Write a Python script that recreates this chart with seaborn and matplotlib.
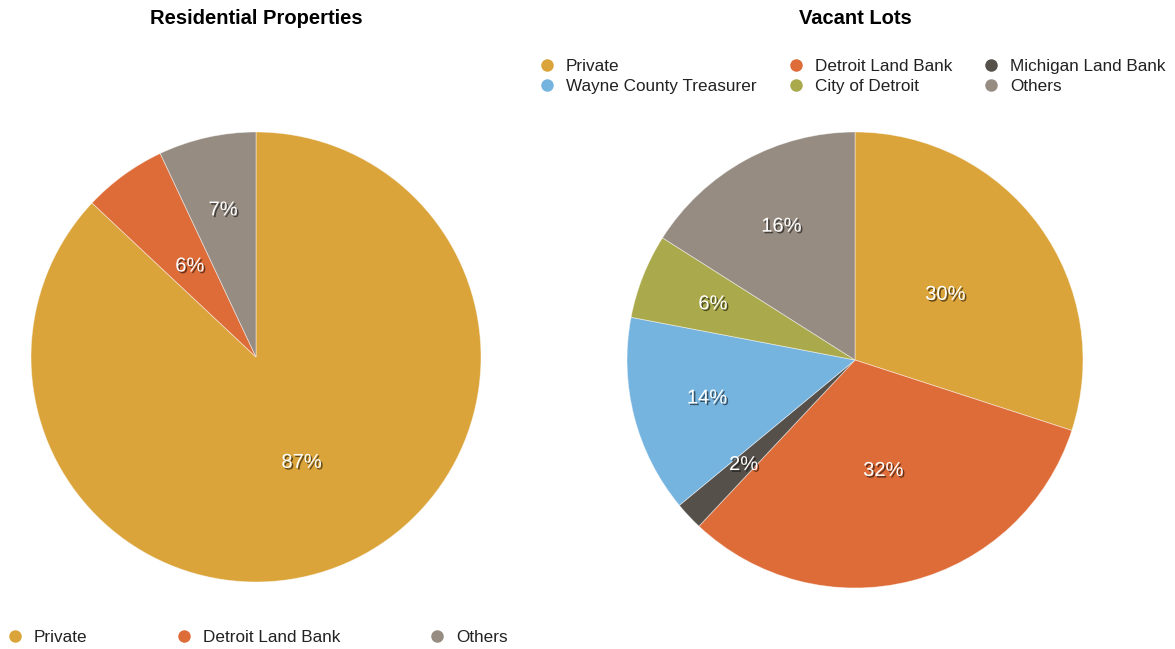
import numpy as np
import matplotlib
matplotlib.use("Agg")
import matplotlib.pyplot as plt
import matplotlib.patheffects as pe
from matplotlib.lines import Line2D
import seaborn as sns

sns.set_theme(style="white")
plt.rcParams["font.family"] = ["Liberation Sans", "DejaVu Sans"]

# Ownership shares (percent)
res_labels = ["Private", "Detroit Land Bank", "Others"]
res_values = [87, 6, 7]

lot_labels = ["Private", "Detroit Land Bank", "Michigan Land Bank",
              "Wayne County Treasurer", "City of Detroit", "Others"]
lot_values = [30, 32, 2, 14, 6, 16]

colors = {
    "Private": "#DBA43A",
    "Detroit Land Bank": "#DE6C38",
    "Michigan Land Bank": "#555049",
    "Wayne County Treasurer": "#76B4E0",
    "City of Detroit": "#AAAA4C",
    "Others": "#968C82",
}

# radial position of each percentage label (fraction of radius)
res_label_r = [0.51, 0.50, 0.67]
lot_label_r = [0.49, 0.50, 0.67, 0.67, 0.67, 0.67]

W, H = 1175, 649
fig = plt.figure(figsize=(W / 100, H / 100), dpi=100)
fig.patch.set_facecolor("white")

shadow = [pe.SimplePatchShadow(offset=(1.2, -1.2), shadow_rgbFace="black", alpha=0.55),
          pe.Normal()]


def draw_pie(rect, labels, values, label_r):
    ax = fig.add_axes(rect)
    wedges, _ = ax.pie(values, colors=[colors[l] for l in labels],
                       startangle=90, counterclock=False, radius=1.0,
                       wedgeprops=dict(edgecolor=(1, 1, 1, 0.5), linewidth=0.6))
    for w, v, r in zip(wedges, values, label_r):
        mid = np.deg2rad((w.theta1 + w.theta2) / 2)
        ax.text(r * np.cos(mid), r * np.sin(mid), f"{v}%", ha="center", va="center",
                color="white", fontsize=14.5, path_effects=shadow)
    ax.set_xlim(-1, 1)
    ax.set_ylim(-1, 1)
    ax.set_aspect("equal")
    ax.axis("off")
    return ax


def px_rect(x0, y0, w, h):
    return [x0 / W, 1 - (y0 + h) / H, w / W, h / H]


ax1 = draw_pie(px_rect(31, 132, 450, 450), res_labels, res_values, res_label_r)
ax2 = draw_pie(px_rect(627, 132, 456, 456), lot_labels, lot_values, lot_label_r)

fig.text(256 / W, 1 - 18 / H, "Residential Properties", ha="center", va="center",
         fontsize=14.5, fontweight="bold", color="black")
fig.text(855 / W, 1 - 18 / H, "Vacant Lots", ha="center", va="center",
         fontsize=14.5, fontweight="bold", color="black")


def handle(label):
    return Line2D([], [], marker="o", linestyle="none", markersize=9,
                  markerfacecolor=colors[label], markeredgecolor="none", label=label)


legend_kw = dict(frameon=False, fontsize=12.3, handlelength=0.8, handletextpad=0.71,
                 borderpad=0, borderaxespad=0, labelspacing=0.25, labelcolor="#222222")

# bottom legend for residential pie
fig.legend(handles=[handle(l) for l in res_labels], ncol=3, loc="center left",
           bbox_to_anchor=(8 / W, 1 - 637 / H), columnspacing=5.25, **legend_kw)

# top legend for vacant lots: column-major order
order = ["Private", "Wayne County Treasurer", "Detroit Land Bank",
         "City of Detroit", "Michigan Land Bank", "Others"]
fig.legend(handles=[handle(l) for l in order], ncol=3, loc="center left",
           bbox_to_anchor=(540 / W, 1 - 76.5 / H), columnspacing=1.9, **legend_kw)

fig.savefig("out.png", dpi=100, facecolor="white")
